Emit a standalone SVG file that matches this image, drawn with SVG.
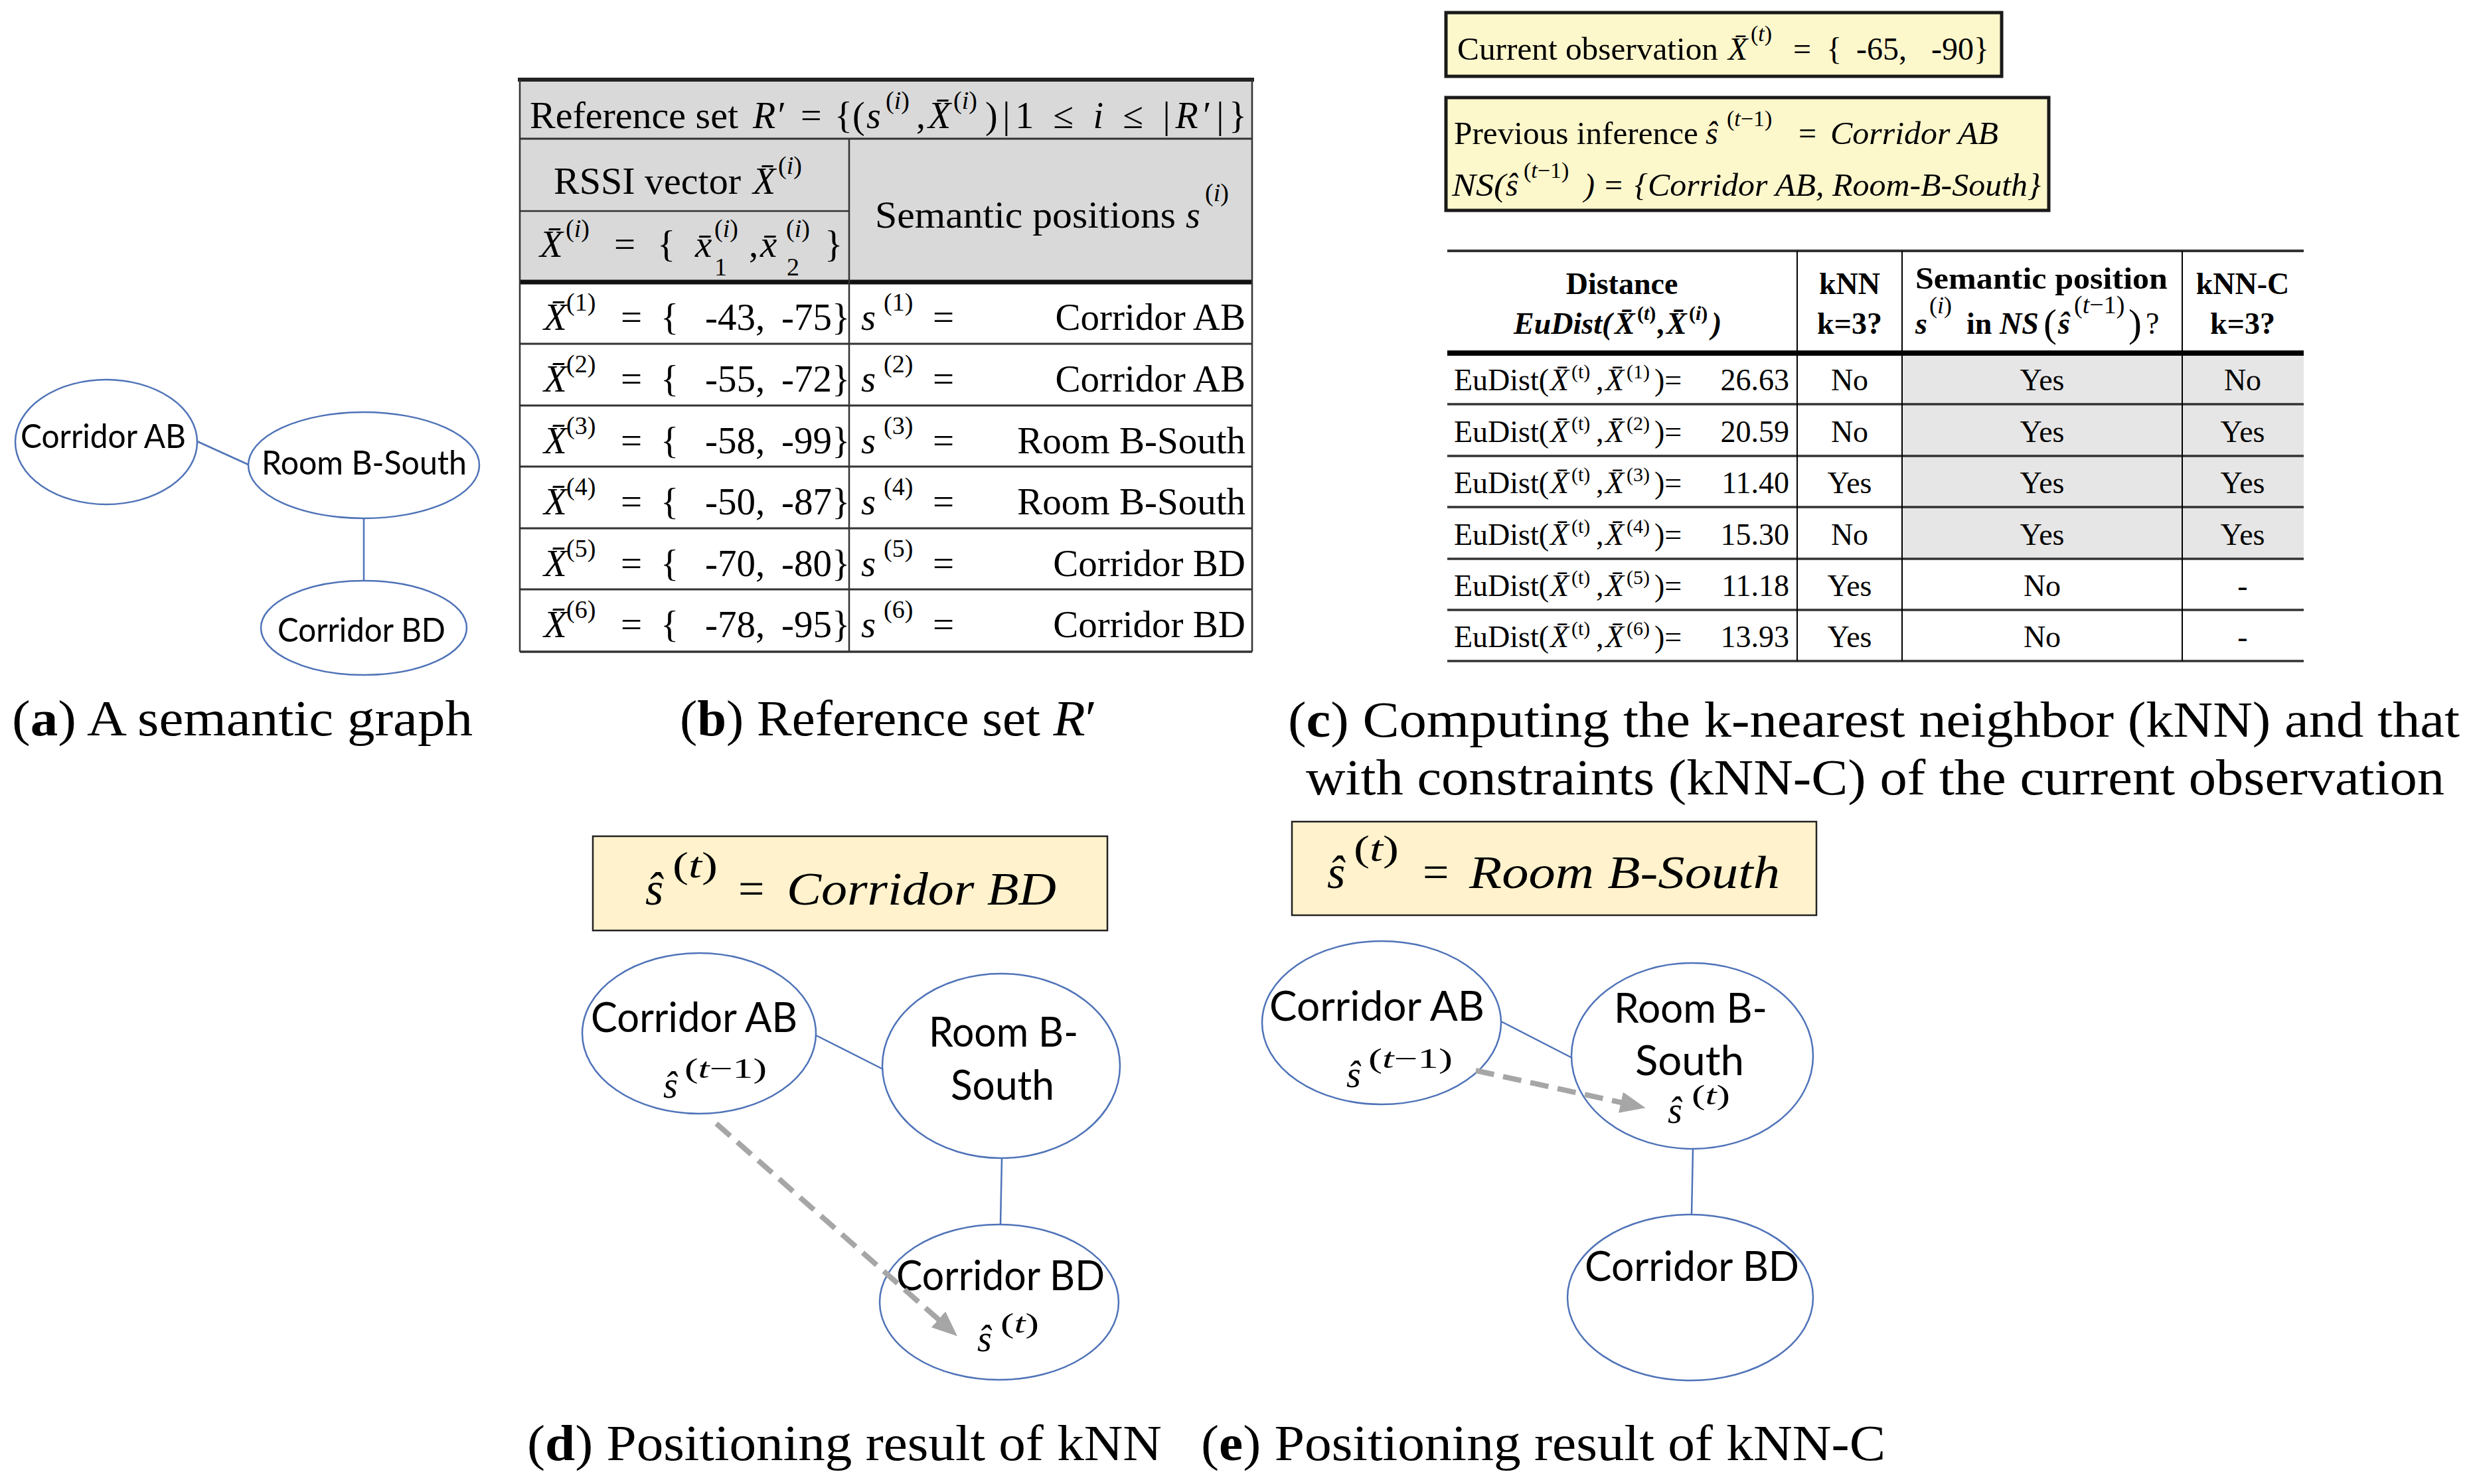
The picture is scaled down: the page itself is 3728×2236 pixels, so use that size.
<svg xmlns="http://www.w3.org/2000/svg" width="3728" height="2236" viewBox="0 0 3728 2236">
<style>
.s{font-family:"Liberation Serif","Times New Roman",serif;fill:#000}
.i{font-style:italic}
.b{font-weight:bold}
.tb{font-size:57px}
.sp{font-size:38px}
.tc{font-size:46px}
.sc{font-size:30px}
.bx{font-size:48px}
.bsp{font-size:34px}
.cap{font-size:76px}
.sans{font-family:Lato,"Open Sans","Liberation Sans",sans-serif;fill:#000}
.na{font-size:51px}
.nd{font-size:62px}
.node{fill:#fff;stroke:#4f73b8;stroke-width:2.5}
.edge{stroke:#4f73b8;stroke-width:2.5;fill:none}
.dash{stroke:#a6a6a6;stroke-width:8;stroke-dasharray:28 14;fill:none}
.ybox{fill:#fff2cc;stroke:#222;stroke-width:2.5}
.ybox2{fill:#fdf7cc;stroke:#1a1a1a;stroke-width:5}
.big{font-size:70px}
.bsup{font-size:54px}
.ns{font-size:56px}
.nsup{font-size:42px}
</style>
<defs>
<marker id="ah" markerUnits="userSpaceOnUse" markerWidth="40" markerHeight="40" viewBox="0 0 40 40" refX="18" refY="20" orient="auto"><path d="M0,4 L38,20 L0,36 z" fill="#a6a6a6"/></marker>
</defs>
<rect width="3728" height="2236" fill="#fff"/>

<!-- ===== Panel (a) ===== -->
<g id="a-corridor-ab"><ellipse class="node" cx="160" cy="666" rx="137" ry="94"/><text class="sans na" x="31" y="675" textLength="249" lengthAdjust="spacingAndGlyphs">Corridor AB</text></g>
<g id="a-room-b-south"><ellipse class="node" cx="548" cy="701" rx="174" ry="80"/><text class="sans na" x="394" y="715" textLength="309" lengthAdjust="spacingAndGlyphs">Room B-South</text></g>
<g id="a-corridor-bd"><ellipse class="node" cx="548" cy="946" rx="155" ry="71"/><text class="sans na" x="418" y="967" textLength="253" lengthAdjust="spacingAndGlyphs">Corridor BD</text></g>

<!-- ===== Panel (b) table ===== -->
<g id="b-table">
<rect x="783" y="120" width="1103" height="305" fill="#d9d9d9"/>
<g stroke="#333" fill="none">
<line x1="780" y1="120" x2="1889" y2="120" stroke-width="6" stroke="#222"/>
<line x1="783" y1="209" x2="1886" y2="209" stroke-width="3"/>
<line x1="783" y1="318" x2="1279" y2="318" stroke-width="2.5"/>
<line x1="783" y1="425" x2="1886" y2="425" stroke-width="7" stroke="#111"/>
<line x1="783" y1="518" x2="1886" y2="518" stroke-width="3"/>
<line x1="783" y1="611" x2="1886" y2="611" stroke-width="3"/>
<line x1="783" y1="703" x2="1886" y2="703" stroke-width="3"/>
<line x1="783" y1="796" x2="1886" y2="796" stroke-width="3"/>
<line x1="783" y1="888" x2="1886" y2="888" stroke-width="3"/>
<line x1="783" y1="982" x2="1886" y2="982" stroke-width="3.5"/>
<line x1="783" y1="120" x2="783" y2="982" stroke-width="2.5"/>
<line x1="1886" y1="120" x2="1886" y2="982" stroke-width="2.5"/>
<line x1="1279" y1="209" x2="1279" y2="982" stroke-width="2.5"/>
</g>
<g id="b-title">
<text class="s" font-size="56" x="798" y="193" textLength="314" lengthAdjust="spacingAndGlyphs">Reference set</text>
<text class="s i" font-size="56" x="1134" y="193">R′</text>
<text class="s" font-size="56" x="1206" y="193">=</text>
<text class="s" font-size="56" x="1257" y="193">{(</text>
<text class="s i" font-size="56" x="1305" y="193">s</text>
<text class="s sp" x="1334" y="164">(<tspan class="i">i</tspan>)</text>
<text class="s" font-size="56" x="1380" y="193">,</text>
<text class="s i" font-size="56" x="1398" y="193">X&#x304;</text>
<text class="s sp" x="1436" y="164">(<tspan class="i">i</tspan>)</text>
<text class="s" font-size="56" x="1484" y="193" textLength="394" lengthAdjust="spacing">)|1 ≤ <tspan class="i">i</tspan> ≤ |<tspan class="i">R</tspan>′|}</text>
</g>
<g id="b-head-rssi">
<text class="s" font-size="56" x="834" y="292" textLength="282" lengthAdjust="spacingAndGlyphs">RSSI vector</text>
<text class="s i" font-size="56" x="1134" y="292">X&#x304;</text>
<text class="s sp" x="1172" y="262">(<tspan class="i">i</tspan>)</text>
</g>
<g id="b-head-vec">
<text class="s i tb" x="813" y="387">X&#x304;</text>
<text class="s sp" x="852" y="357">(<tspan class="i">i</tspan>)</text>
<text class="s tb" x="925" y="387">=</text>
<text class="s tb" x="990" y="387">{</text>
<text class="s i tb" x="1047" y="387">x&#x304;</text>
<text class="s sp" x="1076" y="357">(<tspan class="i">i</tspan>)</text>
<text class="s sp" x="1076" y="415">1</text>
<text class="s tb" x="1128" y="387">,</text>
<text class="s i tb" x="1145" y="387">x&#x304;</text>
<text class="s sp" x="1184" y="357">(<tspan class="i">i</tspan>)</text>
<text class="s sp" x="1185" y="415">2</text>
<text class="s tb" x="1242" y="387">}</text>
</g>
<g id="b-head-sem">
<text class="s" font-size="56" x="1318" y="343" textLength="453" lengthAdjust="spacingAndGlyphs">Semantic positions</text>
<text class="s i" font-size="56" x="1786" y="343">s</text>
<text class="s sp" x="1815" y="303">(<tspan class="i">i</tspan>)</text>
</g>
<g id="b-row-1">
<text class="s i tb" x="819" y="497">X&#x304;</text><text class="s sp" x="853" y="468">(1)</text>
<text class="s tb" x="935" y="497">=</text><text class="s tb" x="995" y="497">{</text>
<text class="s tb" x="1062" y="497">-43,</text><text class="s tb" x="1177" y="497">-75}</text>
<text class="s i tb" x="1297" y="497">s</text><text class="s sp" x="1331" y="468">(1)</text>
<text class="s tb" x="1405" y="497">=</text>
<text class="s tb" x="1876" y="497" text-anchor="end">Corridor AB</text>
</g>
<g id="b-row-2">
<text class="s i tb" x="819" y="590">X&#x304;</text><text class="s sp" x="853" y="561">(2)</text>
<text class="s tb" x="935" y="590">=</text><text class="s tb" x="995" y="590">{</text>
<text class="s tb" x="1062" y="590">-55,</text><text class="s tb" x="1177" y="590">-72}</text>
<text class="s i tb" x="1297" y="590">s</text><text class="s sp" x="1331" y="561">(2)</text>
<text class="s tb" x="1405" y="590">=</text>
<text class="s tb" x="1876" y="590" text-anchor="end">Corridor AB</text>
</g>
<g id="b-row-3">
<text class="s i tb" x="819" y="683">X&#x304;</text><text class="s sp" x="853" y="654">(3)</text>
<text class="s tb" x="935" y="683">=</text><text class="s tb" x="995" y="683">{</text>
<text class="s tb" x="1062" y="683">-58,</text><text class="s tb" x="1177" y="683">-99}</text>
<text class="s i tb" x="1297" y="683">s</text><text class="s sp" x="1331" y="654">(3)</text>
<text class="s tb" x="1405" y="683">=</text>
<text class="s tb" x="1876" y="683" text-anchor="end">Room B-South</text>
</g>
<g id="b-row-4">
<text class="s i tb" x="819" y="775">X&#x304;</text><text class="s sp" x="853" y="746">(4)</text>
<text class="s tb" x="935" y="775">=</text><text class="s tb" x="995" y="775">{</text>
<text class="s tb" x="1062" y="775">-50,</text><text class="s tb" x="1177" y="775">-87}</text>
<text class="s i tb" x="1297" y="775">s</text><text class="s sp" x="1331" y="746">(4)</text>
<text class="s tb" x="1405" y="775">=</text>
<text class="s tb" x="1876" y="775" text-anchor="end">Room B-South</text>
</g>
<g id="b-row-5">
<text class="s i tb" x="819" y="868">X&#x304;</text><text class="s sp" x="853" y="839">(5)</text>
<text class="s tb" x="935" y="868">=</text><text class="s tb" x="995" y="868">{</text>
<text class="s tb" x="1062" y="868">-70,</text><text class="s tb" x="1177" y="868">-80}</text>
<text class="s i tb" x="1297" y="868">s</text><text class="s sp" x="1331" y="839">(5)</text>
<text class="s tb" x="1405" y="868">=</text>
<text class="s tb" x="1876" y="868" text-anchor="end">Corridor BD</text>
</g>
<g id="b-row-6">
<text class="s i tb" x="819" y="960">X&#x304;</text><text class="s sp" x="853" y="931">(6)</text>
<text class="s tb" x="935" y="960">=</text><text class="s tb" x="995" y="960">{</text>
<text class="s tb" x="1062" y="960">-78,</text><text class="s tb" x="1177" y="960">-95}</text>
<text class="s i tb" x="1297" y="960">s</text><text class="s sp" x="1331" y="931">(6)</text>
<text class="s tb" x="1405" y="960">=</text>
<text class="s tb" x="1876" y="960" text-anchor="end">Corridor BD</text>
</g>
</g>

<!-- ===== Panel (c) boxes ===== -->
<g id="c-current-observation">
<rect class="ybox2" x="2178" y="19" width="837" height="96"/>
<text class="s bx" x="2195" y="90" textLength="393" lengthAdjust="spacingAndGlyphs">Current observation</text>
<text class="s i bx" x="2603" y="90">X&#x304;</text>
<text class="s bsp" x="2637" y="62">(<tspan class="i">t</tspan>)</text>
<text class="s bx" x="2701" y="90">=</text>
<text class="s bx" x="2751" y="90">{</text>
<text class="s bx" x="2796" y="90">-65,</text>
<text class="s bx" x="2909" y="90">-90}</text>
</g>
<g id="c-previous-inference">
<rect class="ybox2" x="2178" y="147" width="908" height="170"/>
<text class="s bx" x="2190" y="217" textLength="368" lengthAdjust="spacingAndGlyphs">Previous inference</text>
<text class="s i bx" x="2569" y="217">ŝ</text>
<text class="s bsp" x="2601" y="190">(<tspan class="i">t</tspan>−1)</text>
<text class="s bx" x="2709" y="217">=</text>
<text class="s i bx" x="2757" y="217" textLength="253" lengthAdjust="spacingAndGlyphs">Corridor AB</text>
<text class="s i bx" x="2187" y="295" textLength="81" lengthAdjust="spacingAndGlyphs">NS(</text>
<text class="s i bx" x="2268" y="295">ŝ</text>
<text class="s bsp" x="2295" y="268">(<tspan class="i">t</tspan>−1)</text>
<text class="s i bx" x="2386" y="295">)</text>
<text class="s bx" x="2417" y="295">=</text>
<text class="s i bx" x="2462" y="295" textLength="612" lengthAdjust="spacingAndGlyphs">{Corridor AB, Room-B-South}</text>
</g>

<!-- ===== Panel (c) table ===== -->
<g id="c-table">
<rect x="2865" y="532" width="605" height="310" fill="#e6e6e6"/>
<g stroke="#333" fill="none">
<line x1="2180" y1="378" x2="3470" y2="378" stroke-width="4"/>
<line x1="2180" y1="532" x2="3470" y2="532" stroke-width="8" stroke="#000"/>
<line x1="2180" y1="609" x2="3470" y2="609" stroke-width="3.5"/>
<line x1="2180" y1="687" x2="3470" y2="687" stroke-width="3.5"/>
<line x1="2180" y1="764" x2="3470" y2="764" stroke-width="3.5"/>
<line x1="2180" y1="842" x2="3470" y2="842" stroke-width="3.5"/>
<line x1="2180" y1="919" x2="3470" y2="919" stroke-width="3.5"/>
<line x1="2180" y1="996" x2="3470" y2="996" stroke-width="3.5"/>
<line x1="2707" y1="378" x2="2707" y2="996" stroke-width="2" stroke="#000"/>
<line x1="2865" y1="378" x2="2865" y2="996" stroke-width="2" stroke="#000"/>
<line x1="3287" y1="378" x2="3287" y2="996" stroke-width="2" stroke="#000"/>
</g>
<g id="c-head">
<text class="s b tc" x="2443" y="443" text-anchor="middle">Distance</text>
<text class="s b i tc" x="2280" y="503">EuDist(</text>
<text class="s b i tc" x="2432" y="503">X&#x304;</text>
<text class="s b sc" x="2466" y="482">(<tspan class="i">t</tspan>)</text>
<text class="s b i tc" x="2497" y="503">,</text>
<text class="s b i tc" x="2510" y="503">X&#x304;</text>
<text class="s b sc" x="2544" y="482">(<tspan class="i">i</tspan>)</text>
<text class="s b i tc" x="2578" y="503">)</text>
<text class="s b tc" x="2786" y="443" text-anchor="middle">kNN</text>
<text class="s b tc" x="2786" y="503" text-anchor="middle">k=3?</text>
<text class="s b tc" x="3075" y="435" text-anchor="middle" textLength="380" lengthAdjust="spacingAndGlyphs">Semantic position</text>
<text class="s b i tc" x="2885" y="503">s</text>
<text class="s" font-size="36" x="2906" y="472">(<tspan class="i">i</tspan>)</text>
<text class="s b tc" x="2962" y="503">in</text>
<text class="s b i tc" x="3012" y="503">NS</text>
<text class="s" font-size="60" x="3078" y="507">(</text>
<text class="s b i tc" x="3100" y="503">ŝ</text>
<text class="s" font-size="38" x="3124" y="472">(<tspan class="i">t</tspan>−1)</text>
<text class="s" font-size="60" x="3206" y="507">)</text>
<text class="s tc" x="3232" y="503">?</text>
<text class="s b tc" x="3378" y="443" text-anchor="middle">kNN-C</text>
<text class="s b tc" x="3378" y="503" text-anchor="middle">k=3?</text>
</g>
<g id="c-row-1">
<text class="s tc" x="2190" y="588">EuDist(</text><text class="s i tc" x="2335" y="588">X&#x304;</text><text class="s sc" x="2367" y="570">(t)</text><text class="s tc" x="2404" y="588">,</text><text class="s i tc" x="2418" y="588">X&#x304;</text><text class="s sc" x="2450" y="570">(1)</text><text class="s tc" x="2492" y="588">)=</text>
<text class="s tc" x="2695" y="588" text-anchor="end">26.63</text>
<text class="s tc" x="2786" y="588" text-anchor="middle">No</text>
<text class="s tc" x="3076" y="588" text-anchor="middle">Yes</text>
<text class="s tc" x="3378" y="588" text-anchor="middle">No</text>
</g>
<g id="c-row-2">
<text class="s tc" x="2190" y="666">EuDist(</text><text class="s i tc" x="2335" y="666">X&#x304;</text><text class="s sc" x="2367" y="648">(t)</text><text class="s tc" x="2404" y="666">,</text><text class="s i tc" x="2418" y="666">X&#x304;</text><text class="s sc" x="2450" y="648">(2)</text><text class="s tc" x="2492" y="666">)=</text>
<text class="s tc" x="2695" y="666" text-anchor="end">20.59</text>
<text class="s tc" x="2786" y="666" text-anchor="middle">No</text>
<text class="s tc" x="3076" y="666" text-anchor="middle">Yes</text>
<text class="s tc" x="3378" y="666" text-anchor="middle">Yes</text>
</g>
<g id="c-row-3">
<text class="s tc" x="2190" y="743">EuDist(</text><text class="s i tc" x="2335" y="743">X&#x304;</text><text class="s sc" x="2367" y="725">(t)</text><text class="s tc" x="2404" y="743">,</text><text class="s i tc" x="2418" y="743">X&#x304;</text><text class="s sc" x="2450" y="725">(3)</text><text class="s tc" x="2492" y="743">)=</text>
<text class="s tc" x="2695" y="743" text-anchor="end">11.40</text>
<text class="s tc" x="2786" y="743" text-anchor="middle">Yes</text>
<text class="s tc" x="3076" y="743" text-anchor="middle">Yes</text>
<text class="s tc" x="3378" y="743" text-anchor="middle">Yes</text>
</g>
<g id="c-row-4">
<text class="s tc" x="2190" y="821">EuDist(</text><text class="s i tc" x="2335" y="821">X&#x304;</text><text class="s sc" x="2367" y="803">(t)</text><text class="s tc" x="2404" y="821">,</text><text class="s i tc" x="2418" y="821">X&#x304;</text><text class="s sc" x="2450" y="803">(4)</text><text class="s tc" x="2492" y="821">)=</text>
<text class="s tc" x="2695" y="821" text-anchor="end">15.30</text>
<text class="s tc" x="2786" y="821" text-anchor="middle">No</text>
<text class="s tc" x="3076" y="821" text-anchor="middle">Yes</text>
<text class="s tc" x="3378" y="821" text-anchor="middle">Yes</text>
</g>
<g id="c-row-5">
<text class="s tc" x="2190" y="898">EuDist(</text><text class="s i tc" x="2335" y="898">X&#x304;</text><text class="s sc" x="2367" y="880">(t)</text><text class="s tc" x="2404" y="898">,</text><text class="s i tc" x="2418" y="898">X&#x304;</text><text class="s sc" x="2450" y="880">(5)</text><text class="s tc" x="2492" y="898">)=</text>
<text class="s tc" x="2695" y="898" text-anchor="end">11.18</text>
<text class="s tc" x="2786" y="898" text-anchor="middle">Yes</text>
<text class="s tc" x="3076" y="898" text-anchor="middle">No</text>
<text class="s tc" x="3378" y="898" text-anchor="middle">-</text>
</g>
<g id="c-row-6">
<text class="s tc" x="2190" y="975">EuDist(</text><text class="s i tc" x="2335" y="975">X&#x304;</text><text class="s sc" x="2367" y="957">(t)</text><text class="s tc" x="2404" y="975">,</text><text class="s i tc" x="2418" y="975">X&#x304;</text><text class="s sc" x="2450" y="957">(6)</text><text class="s tc" x="2492" y="975">)=</text>
<text class="s tc" x="2695" y="975" text-anchor="end">13.93</text>
<text class="s tc" x="2786" y="975" text-anchor="middle">Yes</text>
<text class="s tc" x="3076" y="975" text-anchor="middle">No</text>
<text class="s tc" x="3378" y="975" text-anchor="middle">-</text>
</g>
</g>

<!-- ===== Panel (d) ===== -->
<g id="d-result">
<rect class="ybox" x="893" y="1260" width="775" height="142"/>
<text class="s i big" x="972" y="1363">ŝ</text>
<text class="s bsup" x="1013" y="1322" textLength="68" lengthAdjust="spacingAndGlyphs">(<tspan class="i">t</tspan>)</text>
<text class="s big" x="1112" y="1363">=</text>
<text class="s i big" x="1185" y="1363" textLength="406" lengthAdjust="spacingAndGlyphs">Corridor BD</text>
</g>
<g id="d-corridor-ab"><ellipse class="node" cx="1053" cy="1557" rx="176" ry="121"/>
<text class="sans nd" x="890" y="1555" textLength="311" lengthAdjust="spacingAndGlyphs">Corridor AB</text>
<text class="s i ns" x="999" y="1654">ŝ</text>
<text class="s nsup" x="1031" y="1624" textLength="124" lengthAdjust="spacingAndGlyphs">(<tspan class="i">t</tspan>−1)</text>
</g>
<g id="d-room-b-south"><ellipse class="node" cx="1508" cy="1606" rx="179" ry="139"/>
<text class="sans nd" x="1399" y="1577" textLength="225" lengthAdjust="spacingAndGlyphs">Room B-</text>
<text class="sans nd" x="1432" y="1657" textLength="156" lengthAdjust="spacingAndGlyphs">South</text>
</g>
<g id="d-corridor-bd"><ellipse class="node" cx="1505" cy="1962" rx="180" ry="117"/>
<text class="sans nd" x="1350" y="1944" textLength="314" lengthAdjust="spacingAndGlyphs">Corridor BD</text>
<text class="s i ns" x="1472" y="2036">ŝ</text>
<text class="s nsup" x="1507" y="2008" textLength="58" lengthAdjust="spacingAndGlyphs">(<tspan class="i">t</tspan>)</text>
</g>

<!-- ===== Panel (e) ===== -->
<g id="e-result">
<rect class="ybox" x="1946" y="1238" width="790" height="141"/>
<text class="s i big" x="1999" y="1338">ŝ</text>
<text class="s bsup" x="2039" y="1297" textLength="68" lengthAdjust="spacingAndGlyphs">(<tspan class="i">t</tspan>)</text>
<text class="s big" x="2143" y="1338">=</text>
<text class="s i big" x="2213" y="1338" textLength="468" lengthAdjust="spacingAndGlyphs">Room B-South</text>
</g>
<g id="e-corridor-ab"><ellipse class="node" cx="2081" cy="1541" rx="180" ry="123"/>
<text class="sans nd" x="1912" y="1538" textLength="324" lengthAdjust="spacingAndGlyphs">Corridor AB</text>
<text class="s i ns" x="2028" y="1638">ŝ</text>
<text class="s nsup" x="2061" y="1609" textLength="127" lengthAdjust="spacingAndGlyphs">(<tspan class="i">t</tspan>−1)</text>
</g>
<g id="e-room-b-south"><ellipse class="node" cx="2549" cy="1591" rx="182" ry="140"/>
<text class="sans nd" x="2431" y="1541" textLength="231" lengthAdjust="spacingAndGlyphs">Room B-</text>
<text class="sans nd" x="2463" y="1620" textLength="164" lengthAdjust="spacingAndGlyphs">South</text>
<text class="s i ns" x="2512" y="1692">ŝ</text>
<text class="s nsup" x="2548" y="1664" textLength="58" lengthAdjust="spacingAndGlyphs">(<tspan class="i">t</tspan>)</text>
</g>
<g id="e-corridor-bd"><ellipse class="node" cx="2546" cy="1955" rx="185" ry="125"/>
<text class="sans nd" x="2387" y="1930" textLength="323" lengthAdjust="spacingAndGlyphs">Corridor BD</text>
</g>

<!-- ===== Connectors (drawn above nodes) ===== -->
<g id="connectors">
<line class="edge" x1="297" y1="665" x2="374" y2="700"/>
<line class="edge" x1="548" y1="781" x2="548" y2="875"/>
<line class="edge" x1="1229" y1="1560" x2="1330" y2="1611"/>
<line class="edge" x1="1509" y1="1745" x2="1507" y2="1845"/>
<line class="edge" x1="2261" y1="1539" x2="2368" y2="1594"/>
<line class="edge" x1="2550" y1="1731" x2="2548" y2="1830"/>
<line class="dash" x1="1079" y1="1693" x2="1427" y2="2000" marker-end="url(#ah)"/>
<line class="dash" x1="2223" y1="1613" x2="2459" y2="1665" marker-end="url(#ah)"/>
</g>

<!-- ===== Captions ===== -->
<g id="captions">
<text class="s cap" x="18" y="1108" textLength="694" lengthAdjust="spacingAndGlyphs">(<tspan class="b">a</tspan>) A semantic graph</text>
<text class="s cap" x="1024" y="1108" textLength="628" lengthAdjust="spacingAndGlyphs">(<tspan class="b">b</tspan>) Reference set <tspan class="i">R</tspan>′</text>
<text class="s cap" x="1940" y="1110" textLength="1765" lengthAdjust="spacingAndGlyphs">(<tspan class="b">c</tspan>) Computing the k-nearest neighbor (kNN) and that</text>
<text class="s cap" x="1967" y="1197" textLength="1715" lengthAdjust="spacingAndGlyphs">with constraints (kNN-C) of the current observation</text>
<text class="s cap" x="794" y="2200" textLength="956" lengthAdjust="spacingAndGlyphs">(<tspan class="b">d</tspan>) Positioning result of kNN</text>
<text class="s cap" x="1809" y="2200" textLength="1031" lengthAdjust="spacingAndGlyphs">(<tspan class="b">e</tspan>) Positioning result of kNN-C</text>
</g>
</svg>
